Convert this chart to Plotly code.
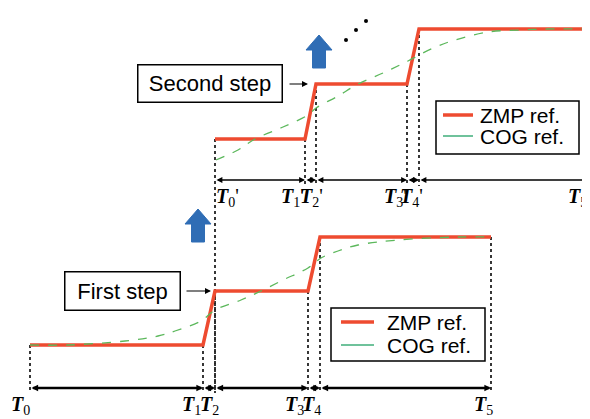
import plotly.graph_objects as go

W, H = 590, 419

# ---- data (time positions and reference levels, in drawing units) ----
lower_times = [22, 195, 207, 300, 312, 483]
upper_times = [207, 297, 308, 399, 411, 580]
lower_levels = [82, 136, 190]
upper_levels = [288, 343, 398]

lower_cog_x = [22, 60, 117, 150, 167, 193, 207, 233, 253, 275, 300, 313, 330, 350, 390, 450, 483]
lower_cog_y = [82, 82, 86, 91, 96, 106, 117, 127, 136, 147, 159, 169, 176, 182, 187, 190, 190]
upper_cog_x = [208, 230, 247, 275, 300, 308, 330, 350, 375, 400, 413, 430, 447, 480, 513, 540, 580]
upper_cog_y = [267, 277, 288, 300, 312, 319, 331, 343, 354, 366, 373, 381, 387, 395, 397, 398, 398]

lower_labels = ["<b><i>T</i></b><sub>0</sub>", "<b><i>T</i></b><sub>1</sub>", "<b><i>T</i></b><sub>2</sub>",
                "<b><i>T</i></b><sub>3</sub>", "<b><i>T</i></b><sub>4</sub>", "<b><i>T</i></b><sub>5</sub>"]
upper_labels = ["<b><i>T</i></b><sub>0</sub>'", "<b><i>T</i></b><sub>1</sub>'", "<b><i>T</i></b><sub>2</sub>'",
                "<b><i>T</i></b><sub>3</sub>'", "<b><i>T</i></b><sub>4</sub>'", "<b><i>T</i></b><sub>5</sub>'"]
# horizontal offset of each label relative to its time mark
lower_label_shift = [-21, -23, -17, -25, -20, -19]
upper_label_shift = [-1, -26, -18, -25, -21, -22]

lower_timeline_y = 39
upper_timeline_y = 247
lower_tick_bottom = 34
upper_tick_bottom = 241

step_arrows = [(190, 218, 185), (311, 392, 359)]  # (center x, tip y, bottom y)
dots_x = [338, 348, 358]
dots_y = [387, 397, 406]

RED = "#ee4b30"
GREEN = "#5cb85c"
GREEN_LEG = "#3fae7a"
BLUE = "#2f6db5"


def zmp_y(lv):
    return [lv[0], lv[0], lv[1], lv[1], lv[2], lv[2]]


fig = go.Figure()

# vertical dotted guides
vx, vy = [], []
for t, lv in zip(lower_times, zmp_y(lower_levels)):
    vx += [t, t, None]
    vy += [lv, lower_tick_bottom, None]
for i, (t, lv) in enumerate(zip(upper_times, zmp_y(upper_levels))):
    bottom = lower_tick_bottom if i == 0 else upper_tick_bottom
    vx += [t, t, None]
    vy += [lv, bottom, None]
fig.add_trace(go.Scatter(x=vx, y=vy, mode="lines",
                         line=dict(color="#222", width=1.8, dash="dot"), hoverinfo="skip"))

# ZMP & COG
for times, lv, cx, cy in [(lower_times, lower_levels, lower_cog_x, lower_cog_y),
                          (upper_times, upper_levels, upper_cog_x, upper_cog_y)]:
    fig.add_trace(go.Scatter(x=times, y=zmp_y(lv), mode="lines",
                             line=dict(color=RED, width=3.5), name="ZMP ref."))
    fig.add_trace(go.Scatter(x=cx, y=cy, mode="lines", line_shape="spline",
                             line=dict(color=GREEN, width=1.3, dash="dash"), name="COG ref."))

# blue step arrows
hw, hl, sw = 13, 15, 6.5
for cx, tip, bot in step_arrows:
    xs = [cx, cx + hw, cx + sw, cx + sw, cx - sw, cx - sw, cx - hw, cx]
    ys = [tip, tip - hl, tip - hl, bot, bot, tip - hl, tip - hl, tip]
    fig.add_trace(go.Scatter(x=xs, y=ys, mode="lines", fill="toself", fillcolor=BLUE,
                             line=dict(color=BLUE, width=1), hoverinfo="skip"))

# ellipsis dots
fig.add_trace(go.Scatter(x=dots_x, y=dots_y, mode="markers",
                         marker=dict(color="black", size=4), hoverinfo="skip"))

ann = []
# timelines
for times, ty, w, sz in [(lower_times, lower_timeline_y, 2.4, 0.55),
                         (upper_times, upper_timeline_y, 1.3, 0.9)]:
    for a, b in zip(times[:-1], times[1:]):
        ann.append(dict(x=b, y=ty, ax=a, ay=ty, xref="x", yref="y", axref="x", ayref="y",
                        text="", showarrow=True, arrowhead=2, arrowside="end+start",
                        arrowsize=sz, arrowwidth=w, arrowcolor="black",
                        standoff=0, startstandoff=0))

# time labels
lab_font = dict(family="Liberation Serif", size=20, color="black")
for t, s, txt in zip(lower_times, lower_label_shift, lower_labels):
    ann.append(dict(x=t, y=36, xref="x", yref="y", text=txt, showarrow=False,
                    xshift=s, xanchor="left", yanchor="top", font=lab_font))
for t, s, txt in zip(upper_times, upper_label_shift, upper_labels):
    ann.append(dict(x=t, y=244, xref="x", yref="y", text=txt, showarrow=False,
                    xshift=s, xanchor="left", yanchor="top", font=lab_font))

# step boxes with pointers
box_font = dict(family="Liberation Sans", size=22, color="black")
ann.append(dict(x=114, y=136.5, xref="x", yref="y", text="First step", showarrow=False,
                font=box_font, bordercolor="black", borderwidth=1.5, bgcolor="white",
                width=104, height=27, borderpad=5))
ann.append(dict(x=201.5, y=344, xref="x", yref="y", text="Second step", showarrow=False,
                font=box_font, bordercolor="black", borderwidth=1.5, bgcolor="white",
                width=133, height=26, borderpad=5))
ann.append(dict(x=203, y=136, ax=177, ay=136, xref="x", yref="y", axref="x", ayref="y",
                text="", showarrow=True, arrowhead=2, arrowsize=1, arrowwidth=1.2, arrowcolor="black"))
ann.append(dict(x=300, y=343, ax=280, ay=343, xref="x", yref="y", axref="x", ayref="y",
                text="", showarrow=True, arrowhead=2, arrowsize=1, arrowwidth=1.2, arrowcolor="black"))

# legends (manual boxes)
shapes = []
leg_font = dict(family="Liberation Sans", size=21, color="black")
for (x0, x1, y0, y1, lx0, lx1, yz, yc, tx) in [(323, 477, 66, 119, 333, 366, 105, 82, 377),
                                               (428, 571, 273, 326, 435, 465, 312, 291, 470)]:
    shapes.append(dict(type="rect", xref="x", yref="y", x0=x0, x1=x1, y0=y0, y1=y1,
                       line=dict(color="black", width=1.5), fillcolor="white", layer="above"))
    shapes.append(dict(type="line", xref="x", yref="y", x0=lx0, x1=lx1, y0=yz, y1=yz,
                       line=dict(color=RED, width=3.5), layer="above"))
    shapes.append(dict(type="line", xref="x", yref="y", x0=lx0, x1=lx1, y0=yc, y1=yc,
                       line=dict(color=GREEN_LEG, width=1.5), layer="above"))
    ann.append(dict(x=tx, y=yz, xref="x", yref="y", text="ZMP ref.", showarrow=False,
                    xanchor="left", yanchor="middle", font=leg_font))
    ann.append(dict(x=tx, y=yc, xref="x", yref="y", text="COG ref.", showarrow=False,
                    xanchor="left", yanchor="middle", font=leg_font))

fig.update_layout(width=W, height=H, autosize=False, margin=dict(l=0, r=0, t=0, b=0),
                  paper_bgcolor="white", plot_bgcolor="white", showlegend=False,
                  xaxis=dict(range=[0, W], visible=False, fixedrange=True),
                  yaxis=dict(range=[0, H], visible=False, fixedrange=True),
                  annotations=ann, shapes=shapes)

fig.write_html("out.html", config={"displayModeBar": False})
